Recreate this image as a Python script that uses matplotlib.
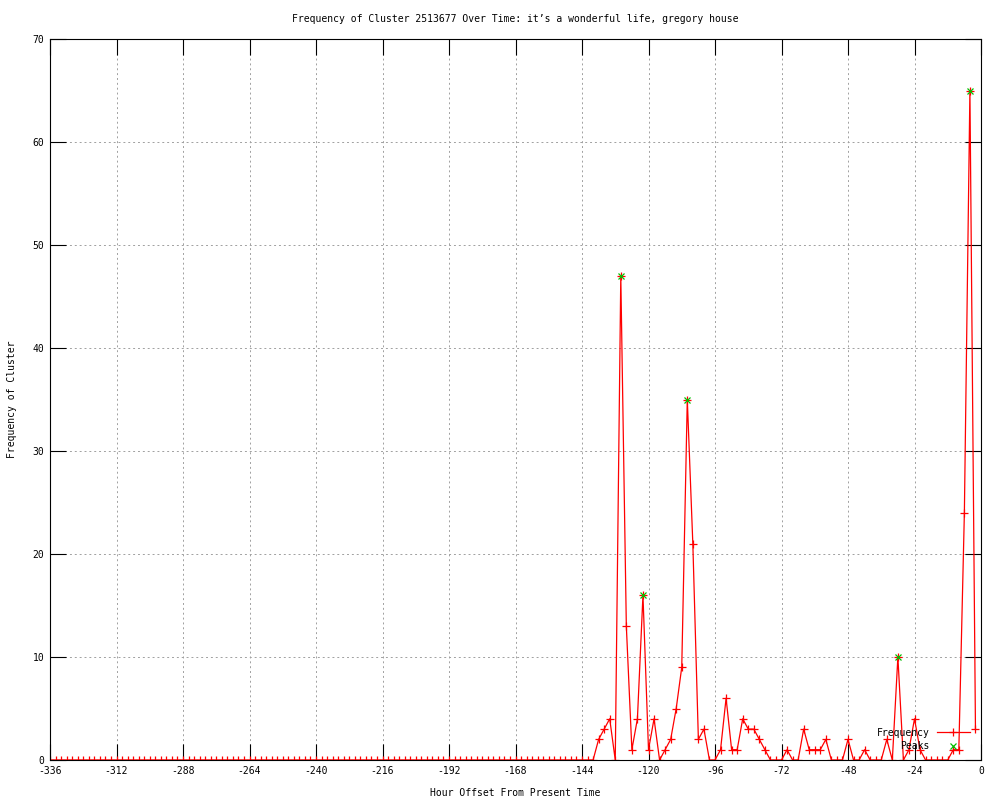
import matplotlib
matplotlib.use("Agg")
import matplotlib.pyplot as plt

# hour offsets every 2 hours, -336 .. -2
hours = list(range(-336, 0, 2))

# everything before -140 is zero
quiet = [0] * 98
active = [
    0, 2, 3, 4, 0, 47, 13, 1, 4, 16,      # -140 .. -122
    1, 4, 0, 1, 2, 5, 9, 35, 21, 2,       # -120 .. -102
    3, 0, 0, 1, 6, 1, 1, 4, 3, 3,         # -100 .. -82
    2, 1, 0, 0, 0, 1, 0, 0, 3, 1,         # -80 .. -62
    1, 1, 2, 0, 0, 0, 2, 0, 0, 1,         # -60 .. -42
    0, 0, 0, 2, 0, 10, 0, 1, 4, 1,        # -40 .. -22
    0, 0, 0, 0, 0, 1, 1, 24, 65, 3,       # -20 .. -2
]
freq = quiet + active

peak_hours = [-130, -122, -106, -30, -4]
peak_vals = [47, 16, 35, 10, 65]

x_ticks = list(range(-336, 1, 24))
y_ticks = list(range(0, 71, 10))

title = "Frequency of Cluster 2513677 Over Time: it\u2019s a wonderful life, gregory house"

plt.rcParams['font.family'] = ['DejaVu Sans Mono', 'DejaVu Sans']
plt.rcParams['font.size'] = 7
plt.rcParams['axes.unicode_minus'] = False

fig = plt.figure(figsize=(10, 8), dpi=100)
ax = fig.add_axes([0.05, 0.05, 0.931, 0.90125])

ax.plot(hours, freq, color='#ff0000', lw=0.9, marker='+', ms=6, mew=0.9,
        label='Frequency')
ax.plot(peak_hours, peak_vals, ls='none', color='#00c000', marker='x', ms=5,
        mew=0.9, label='Peaks')

ax.set_xlim(-336, 0)
ax.set_ylim(0, 70)
ax.set_xticks(x_ticks)
ax.set_yticks(y_ticks)
ax.tick_params(direction='in', length=11.5, width=0.8, top=True, right=True,
               pad=4, labelsize=7)
ax.grid(True, color='#a0a0a0', ls=(0, (2, 3)), lw=0.7)
for s in ax.spines.values():
    s.set_linewidth(0.8)

ax.set_title(title, fontsize=7, pad=12)
ax.set_xlabel('Hour Offset From Present Time', fontsize=7)
ax.set_ylabel('Frequency of Cluster', fontsize=7)
ax.xaxis.set_label_coords(0.5, -0.039)
ax.yaxis.set_label_coords(-0.0355, 0.5)

ax.legend(loc='lower right', bbox_to_anchor=(0.988, 0.0125), frameon=False,
          markerfirst=False, numpoints=1, handlelength=3.4, handletextpad=0.7,
          labelspacing=0.35, borderpad=0, borderaxespad=0, fontsize=7)

fig.savefig('out.png', dpi=100)
